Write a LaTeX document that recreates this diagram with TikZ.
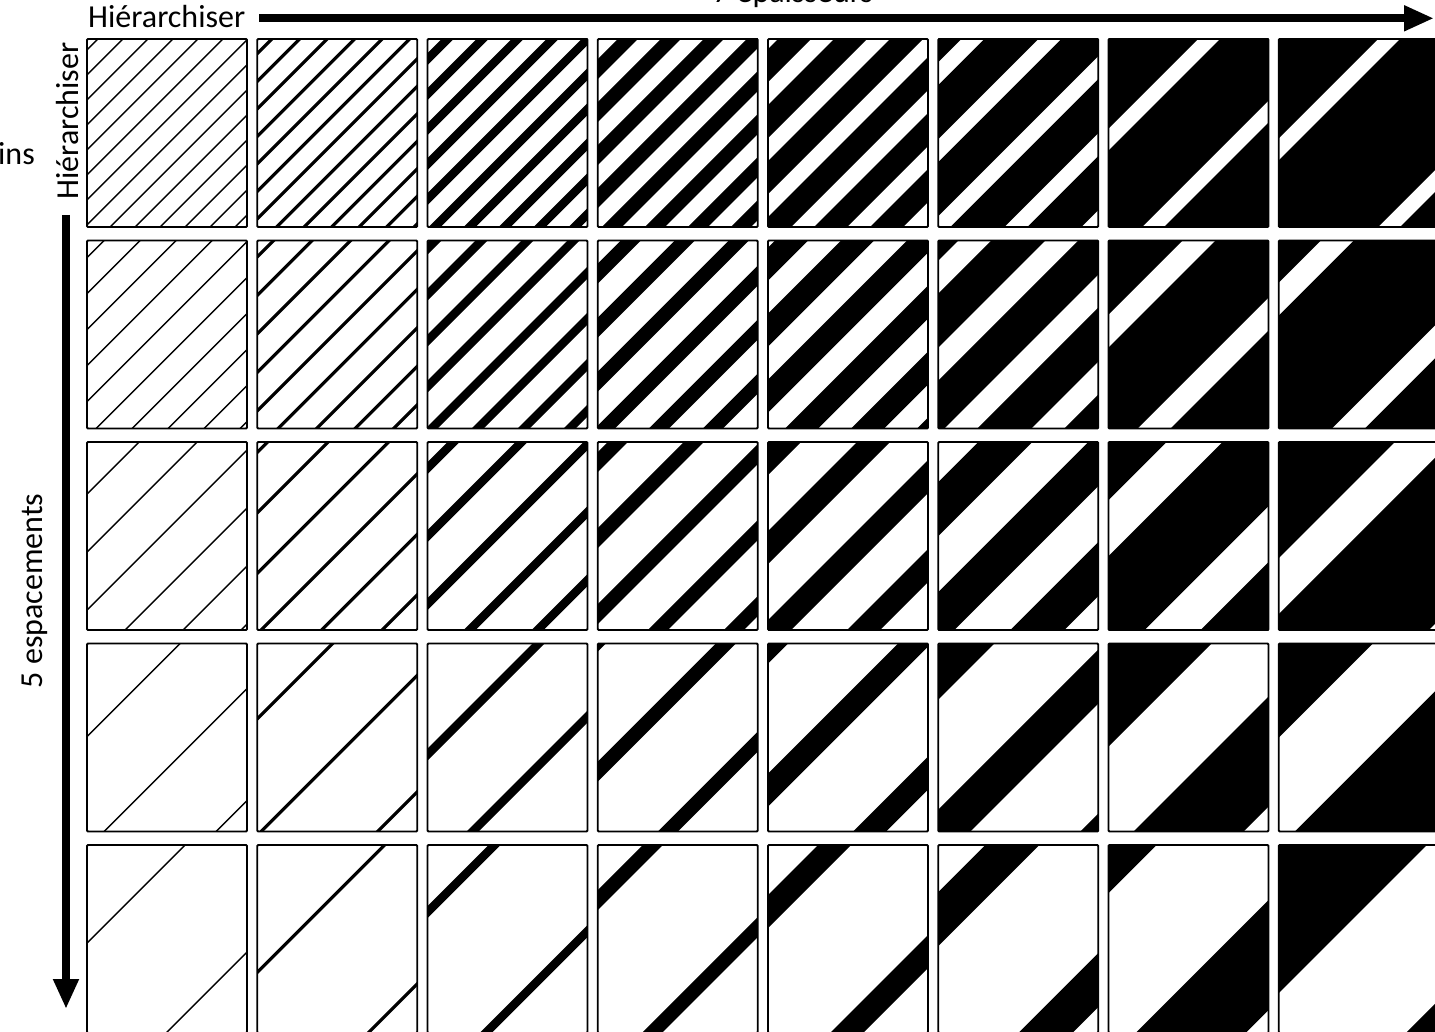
\documentclass[tikz,border=0pt]{standalone}
\usepackage{fontspec}
\setmainfont{Carlito}
\usetikzlibrary{arrows.meta}
\tikzset{
  cellbox/.style={draw=black, line width=1.8pt, minimum width=160pt, minimum height=188pt, inner sep=0pt, rounded corners=1pt},
  lbl/.style={inner sep=0pt, font=\fontsize{32}{38}\selectfont},
  bigarrow/.style={line width=8pt, -{Triangle[length=30pt,width=24pt]}}
}
\newcommand{\hcell}[5]{%
  \pgfmathsetmacro{\xo}{87+170.25*(#1-1)}%
  \pgfmathsetmacro{\yo}{39+201.5*(#2-1)}%
  \pgfmathsetmacro{\per}{#3+#4}%
  \pgfmathsetmacro{\sz}{\xo+\yo+#5}%
  \pgfmathtruncatemacro{\kmin}{-ceil((#5+#3)/\per)-1}%
  \pgfmathtruncatemacro{\kmax}{ceil((350-#5)/\per)+1}%
  \begin{scope}
    \clip (\xo,\yo) rectangle ++(160,188);
    \foreach \k in {\kmin,...,\kmax}{
      \pgfmathsetmacro{\sa}{\sz+\k*\per}
      \pgfmathsetmacro{\sb}{\sa+#3}
      \fill[black] (\sa-\yo+5,\yo-5) -- (\sb-\yo+5,\yo-5) -- (\sb-\yo-193,\yo+193) -- (\sa-\yo-193,\yo+193) -- cycle;
    }
  \end{scope}
  \node[cellbox] (c#2#1) at (\xo+80,\yo+94) {};
}
\begin{document}
\begin{tikzpicture}[x=1pt,y=-1pt]
\clip (0,0) rectangle (1435,1032);
\fill[white] (0,0) rectangle (1435,1032);
% row 1 (gap 23)
\hcell{1}{1}{2}{23}{10}
\hcell{2}{1}{4.5}{23}{12.5}
\hcell{3}{1}{12}{23}{14}
\hcell{4}{1}{20}{23}{20}
\hcell{5}{1}{33}{23}{10}
\hcell{6}{1}{54}{23}{46}
\hcell{7}{1}{110}{22}{111.6}
\hcell{8}{1}{166}{22}{121.3}
% row 2 (gap 34)
\hcell{1}{2}{2}{34}{16}
\hcell{2}{2}{4.5}{34}{14}
\hcell{3}{2}{12}{34}{2}
\hcell{4}{2}{20}{34}{23}
\hcell{5}{2}{33}{33}{7}
\hcell{6}{2}{54}{33}{53}
\hcell{7}{2}{110}{33}{107}
\hcell{8}{2}{166}{33}{75}
% row 3 (gap 56)
\hcell{1}{3}{2}{56}{51}
\hcell{2}{3}{4.5}{56}{8}
\hcell{3}{3}{12}{56}{20}
\hcell{4}{3}{20}{56}{10}
\hcell{5}{3}{33}{56}{0}
\hcell{6}{3}{54}{56}{40}
\hcell{7}{3}{110}{56}{-52}
\hcell{8}{3}{166}{56}{-50}
% row 4 (gap 110)
\hcell{1}{4}{2}{110}{92}
\hcell{2}{4}{4.5}{112}{73}
\hcell{3}{4}{12}{110}{105}
\hcell{4}{4}{20}{110}{118}
\hcell{5}{4}{33}{110}{-13}
\hcell{6}{4}{54}{110}{2}
\hcell{7}{4}{110}{110}{-7}
\hcell{8}{4}{166}{110}{-72}
% row 5 (gap 167)
\hcell{1}{5}{2}{167}{97}
\hcell{2}{5}{4.5}{167}{125}
\hcell{3}{5}{12}{167}{61}
\hcell{4}{5}{20}{167}{45}
\hcell{5}{5}{33}{167}{50}
\hcell{6}{5}{54}{167}{47}
\hcell{7}{5}{110}{167}{-62}
\hcell{8}{5}{166}{167}{-18}
% labels
\node[lbl, anchor=base west] (htop) at (88,28) {Hiérarchiser};
\node[lbl, anchor=base west] (epais) at (713,2.5) {7 épaisseurs};
\node[lbl, anchor=base east] (ins) at (35,165) {ins};
\node[lbl, anchor=base, rotate=90] (hleft) at (78,121) {Hiérarchiser};
\node[lbl, anchor=base, rotate=90] (esp) at (42,591) {5 espacements};
% arrows
\coordinate (hstart) at (259,18.3);
\coordinate (hend) at (1434,18.3);
\coordinate (vstart) at (66,215);
\coordinate (vend) at (66,1009);
\draw[bigarrow] (hstart) -- (hend);
\draw[bigarrow] (vstart) -- (vend);
\end{tikzpicture}
\end{document}
